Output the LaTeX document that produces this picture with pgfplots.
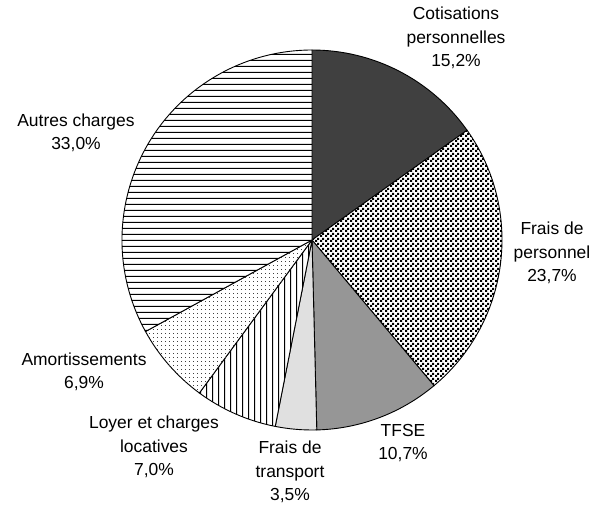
\documentclass[border=0pt]{standalone}
\usepackage{fontspec}
\setmainfont{Liberation Sans}
\usepackage{pgfplots}
\usepackage{pgfplotstable}
\pgfplotsset{compat=1.18}
\usetikzlibrary{patterns}

\definecolor{sdark}{HTML}{404040}
\definecolor{smid}{HTML}{969696}
\definecolor{slight}{HTML}{E0E0E0}

% fill patterns of the original chart
\pgfdeclarepatternformonly{hlines}{\pgfqpoint{0bp}{0bp}}{\pgfqpoint{6bp}{6bp}}{\pgfqpoint{6bp}{6bp}}{%
  \pgfsetlinewidth{1bp}\pgfpathmoveto{\pgfqpoint{-1bp}{3bp}}\pgfpathlineto{\pgfqpoint{7bp}{3bp}}\pgfusepath{stroke}}
\pgfdeclarepatternformonly{vlines}{\pgfqpoint{0bp}{0bp}}{\pgfqpoint{6bp}{6bp}}{\pgfqpoint{6bp}{6bp}}{%
  \pgfsetlinewidth{1bp}\pgfpathmoveto{\pgfqpoint{3bp}{-1bp}}\pgfpathlineto{\pgfqpoint{3bp}{7bp}}\pgfusepath{stroke}}
\pgfdeclarepatternformonly{checker}{\pgfqpoint{0bp}{0bp}}{\pgfqpoint{5bp}{5bp}}{\pgfqpoint{5bp}{5bp}}{%
  \pgfpathrectangle{\pgfqpoint{0bp}{0bp}}{\pgfqpoint{2.5bp}{2.5bp}}%
  \pgfpathrectangle{\pgfqpoint{2.5bp}{2.5bp}}{\pgfqpoint{2.5bp}{2.5bp}}\pgfusepath{fill}}
\pgfdeclarepatternformonly{sdots}{\pgfqpoint{0bp}{0bp}}{\pgfqpoint{4bp}{4bp}}{\pgfqpoint{4bp}{4bp}}{%
  \pgfpathrectangle{\pgfqpoint{1.5bp}{1.5bp}}{\pgfqpoint{0.9bp}{0.9bp}}\pgfusepath{fill}}

% shares in percent, clockwise from 12 o'clock
\pgfplotstableread{
pct
15.2
23.7
10.7
3.5
7.0
6.9
33.0
}\piedata

\newcommand\lab{\fontsize{17.5}{23.5}\selectfont}

\begin{document}
\begin{tikzpicture}
\gdef\cum{0}
\foreach \i in {0,...,6}{%
  \pgfplotstablegetelem{\i}{pct}\of\piedata
  \pgfmathsetmacro\st{90-3.6*\cum}
  \pgfmathsetmacro\en{90-3.6*(\cum+\pgfplotsretval)}
  \expandafter\xdef\csname st\i\endcsname{\st}%
  \expandafter\xdef\csname en\i\endcsname{\en}%
  \pgfmathsetmacro\nc{\cum+\pgfplotsretval}%
  \xdef\cum{\nc}%
}
\begin{axis}[
    x=1bp, y=1bp,
    xmin=-312, xmax=286,
    ymin=-266, ymax=240,
    hide axis,
    clip=false,
]
\path (axis cs:-312,-266) rectangle (axis cs:286,240);
\newcommand\slice[2]{%
  \filldraw[line width=0.9bp, draw=black, #2]
    (axis cs:0,0) -- ++(\csname st#1\endcsname:190bp)
    arc[start angle=\csname st#1\endcsname, end angle=\csname en#1\endcsname, radius=190bp] -- cycle;}
\slice{0}{fill=sdark}
\slice{1}{fill=white, postaction={pattern=checker}}
\slice{2}{fill=smid}
\slice{3}{fill=slight}
\slice{4}{fill=white, postaction={pattern=vlines}}
\slice{5}{fill=white, postaction={pattern=sdots, pattern color=black!75}}
\slice{6}{fill=white, postaction={pattern=hlines}}

\node[align=center, font=\lab] at (axis cs:144,202) {Cotisations\\personnelles\\15,2\%};
\node[align=center, font=\lab] at (axis cs:240,-13) {Frais de\\personnel\\23,7\%};
\node[align=center, font=\lab] at (axis cs:91,-203) {TFSE\\10,7\%};
\node[align=center, font=\lab] at (axis cs:-22,-232) {Frais de\\transport\\3,5\%};
\node[align=center, font=\lab] at (axis cs:-158,-207) {Loyer et charges\\locatives\\7,0\%};
\node[align=center, font=\lab] at (axis cs:-228,-132) {Amortissements\\6,9\%};
\node[align=center, font=\lab] at (axis cs:-236,107) {Autres charges\\33,0\%};
\end{axis}
\end{tikzpicture}
\end{document}
